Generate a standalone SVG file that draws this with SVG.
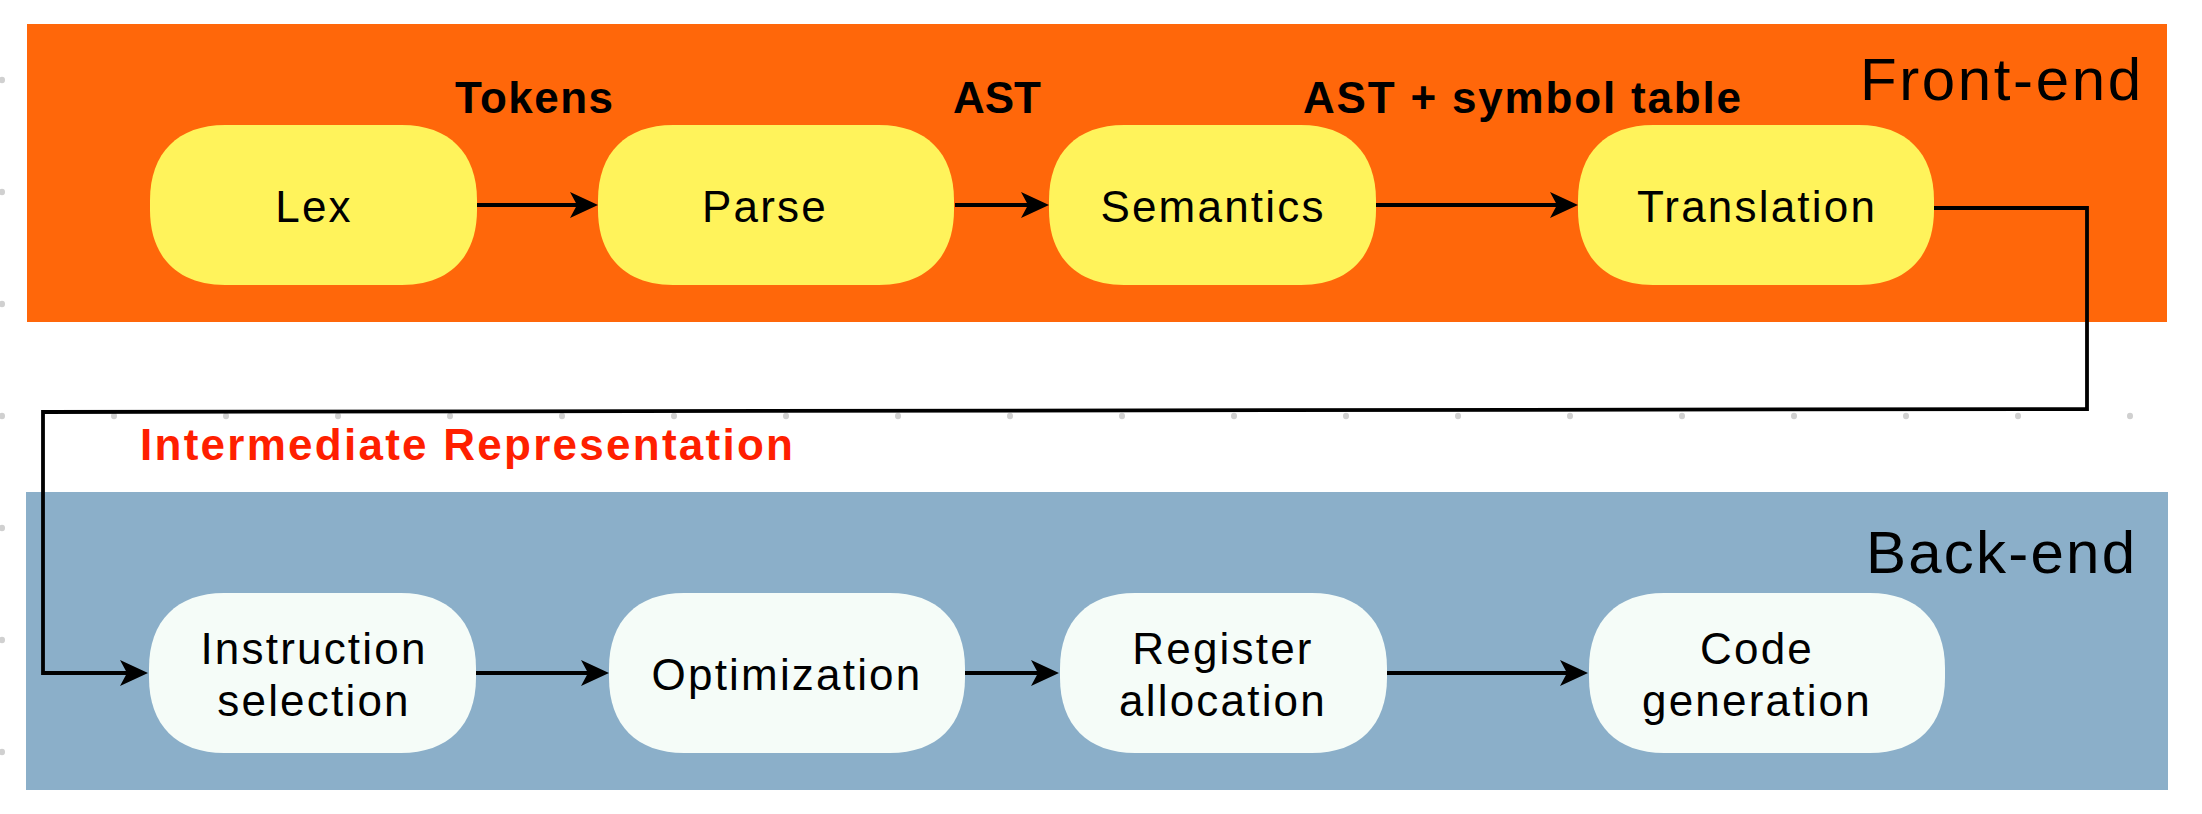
<svg xmlns="http://www.w3.org/2000/svg" width="2202" height="814" viewBox="0 0 2202 814">
  <style>
    .node-front { fill: #FFF35B; }
    .node-back { fill: #F5FCF8; }
    .ntext { font-family: "Liberation Sans", Arial, sans-serif; font-size: 44px; fill: #000; text-anchor: middle; letter-spacing: 2.2px; }
    .label { font-family: "Liberation Sans", Arial, sans-serif; font-size: 44px; font-weight: bold; fill: #000; }
    .ir { fill: #FF1F00; }
    .title { font-family: "Liberation Sans", Arial, sans-serif; font-size: 60px; fill: #000; }
    .edge { fill: none; stroke: #000; stroke-width: 3.8; stroke-linejoin: miter; }
  </style>
  <defs>
    <pattern id="dots" patternUnits="userSpaceOnUse" x="-54" y="24" width="112" height="112">
      <ellipse cx="56" cy="56" rx="3" ry="3.2" fill="#D0D0D0"/>
    </pattern>
    <marker id="arrow" viewBox="0 0 28 26" refX="7" refY="13" markerWidth="28" markerHeight="26" markerUnits="userSpaceOnUse" orient="auto">
      <path d="M0,0 L28,13 L0,26 L7,13 Z" fill="#000"/>
    </marker>
    <path id="shape-s" d="M0,75 C0,28 28,0 75,0 H252 C299,0 327,28 327,75 V85 C327,132 299,160 252,160 H75 C28,160 0,132 0,85 Z"/>
    <path id="shape-l" d="M0,75 C0,28 28,0 75,0 H281 C328,0 356,28 356,75 V85 C356,132 328,160 281,160 H75 C28,160 0,132 0,85 Z"/>
  </defs>

  <rect x="0" y="0" width="2202" height="814" fill="#FFFFFF"/>
  <rect x="0" y="0" width="2202" height="814" fill="url(#dots)"/>

  <g id="front-end">
    <rect x="27" y="24" width="2140" height="298" fill="#FF670A"/>
    <text class="title" x="1860" y="100" textLength="281" lengthAdjust="spacing">Front-end</text>
  </g>
  <g id="back-end">
    <rect x="26" y="492" width="2142" height="298" fill="#8BAFC9"/>
    <text class="title" x="1866" y="573" textLength="269" lengthAdjust="spacing">Back-end</text>
  </g>

  <g id="connectors">
    <path class="edge" d="M477,205 L577,205" marker-end="url(#arrow)"/>
    <path class="edge" d="M955,205 L1028,205" marker-end="url(#arrow)"/>
    <path class="edge" d="M1376,205 L1557,205" marker-end="url(#arrow)"/>
    <path class="edge" d="M1934,208 L2087,208 L2087,409 L43,412 L43,673 L127,673" marker-end="url(#arrow)"/>
    <path class="edge" d="M476,673 L588,673" marker-end="url(#arrow)"/>
    <path class="edge" d="M965,673 L1038,673" marker-end="url(#arrow)"/>
    <path class="edge" d="M1386,673 L1567,673" marker-end="url(#arrow)"/>
  </g>

  <g id="edge-labels">
    <text class="label" x="455" y="113" textLength="158" lengthAdjust="spacing">Tokens</text>
    <text class="label" x="953" y="113" textLength="88" lengthAdjust="spacing">AST</text>
    <text class="label" x="1303" y="113" textLength="438" lengthAdjust="spacing">AST + symbol table</text>
    <text class="label ir" x="140" y="460" textLength="653" lengthAdjust="spacing">Intermediate Representation</text>
  </g>

  <g id="lex">
    <use href="#shape-s" x="150" y="125" class="node-front"/>
    <text class="ntext" x="314" y="222">Lex</text>
  </g>
  <g id="parse">
    <use href="#shape-l" x="598" y="125" class="node-front"/>
    <text class="ntext" x="765" y="222">Parse</text>
  </g>
  <g id="semantics">
    <use href="#shape-s" x="1049" y="125" class="node-front"/>
    <text class="ntext" x="1213" y="222">Semantics</text>
  </g>
  <g id="translation">
    <use href="#shape-l" x="1578" y="125" class="node-front"/>
    <text class="ntext" x="1757" y="222">Translation</text>
  </g>

  <g id="instruction-selection">
    <use href="#shape-s" x="149" y="593" class="node-back"/>
    <text class="ntext" x="314" y="664">Instruction</text>
    <text class="ntext" x="314" y="716">selection</text>
  </g>
  <g id="optimization">
    <use href="#shape-l" x="609" y="593" class="node-back"/>
    <text class="ntext" x="787" y="690">Optimization</text>
  </g>
  <g id="register-allocation">
    <use href="#shape-s" x="1060" y="593" class="node-back"/>
    <text class="ntext" x="1223" y="664">Register</text>
    <text class="ntext" x="1223" y="716">allocation</text>
  </g>
  <g id="code-generation">
    <use href="#shape-l" x="1589" y="593" class="node-back"/>
    <text class="ntext" x="1757" y="664">Code</text>
    <text class="ntext" x="1757" y="716">generation</text>
  </g>
</svg>
